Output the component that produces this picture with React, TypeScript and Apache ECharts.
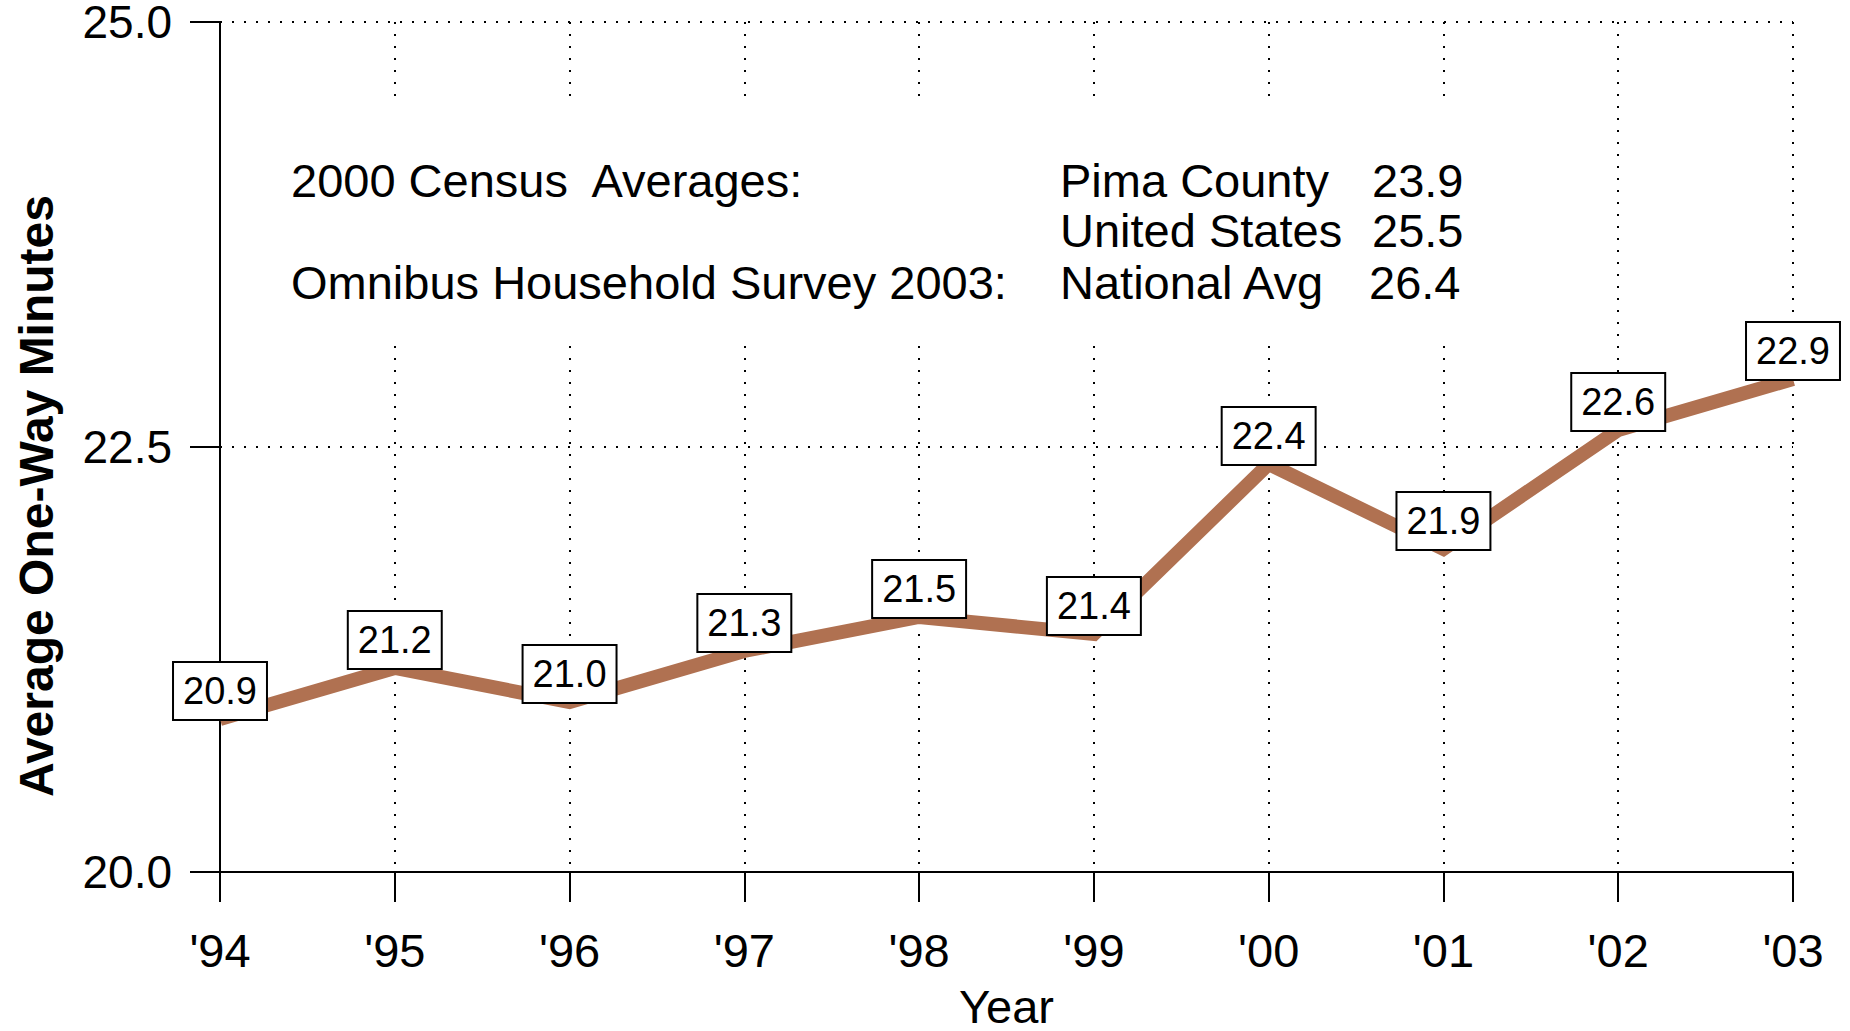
import React, { useEffect, useRef } from "react";
import * as echarts from "echarts";

const years = ["'94", "'95", "'96", "'97", "'98", "'99", "'00", "'01", "'02", "'03"];
const minutes = [20.9, 21.2, 21.0, 21.3, 21.5, 21.4, 22.4, 21.9, 22.6, 22.9];
const yMin = 20;
const yMax = 25;
const yStep = 2.5;

const yTitle = "Average One-Way Minutes";
const noteLeft = ["2000 Census  Averages:", "", "Omnibus Household Survey 2003:"];
const noteMid = ["Pima County", "United States", "National Avg"];
const noteVal = ["23.9", "25.5", "26.4"];

const FONT = "'Liberation Sans', Arial, Helvetica, sans-serif";
const LINE_COLOR = "#B07151";

export default function App() {
  const ref = useRef<HTMLDivElement>(null);
  useEffect(() => {
    if (!ref.current) return;
    const chart = echarts.init(ref.current, null, { renderer: "svg" });
    const rowsY = [180, 230, 282];
    const graphics: any[] = [
      {
        type: "rect",
        z: 5,
        shape: { x: 250, y: 106, width: 1250, height: 236 },
        style: { fill: "#ffffff" },
      },
      {
        type: "text",
        z: 6,
        x: 36,
        y: 496,
        rotation: Math.PI / 2,
        style: {
          text: yTitle,
          font: `bold 48px ${FONT}`,
          fill: "#000",
          textAlign: "center",
          textVerticalAlign: "middle",
        },
      },
    ];
    noteLeft.forEach((t, i) => {
      if (!t) return;
      graphics.push({
        type: "text",
        z: 6,
        x: 291,
        y: rowsY[i],
        style: { text: t, font: `47px ${FONT}`, fill: "#000", textAlign: "left", textVerticalAlign: "middle" },
      });
    });
    noteMid.forEach((t, i) => {
      graphics.push({
        type: "text",
        z: 6,
        x: 1060,
        y: rowsY[i],
        style: { text: t, font: `47px ${FONT}`, fill: "#000", textAlign: "left", textVerticalAlign: "middle" },
      });
    });
    noteVal.forEach((t, i) => {
      graphics.push({
        type: "text",
        z: 6,
        x: i === 2 ? 1369 : 1372,
        y: rowsY[i],
        style: { text: t, font: `47px ${FONT}`, fill: "#000", textAlign: "left", textVerticalAlign: "middle" },
      });
    });

    const dotted = { color: "#000", width: 2, type: [2, 10] as any };

    chart.setOption({
      animation: false,
      backgroundColor: "#ffffff",
      textStyle: { fontFamily: FONT },
      grid: {
        left: 220,
        right: 57,
        top: 22,
        bottom: 159,
        containLabel: false,
        outerBoundsMode: "none",
      },
      xAxis: {
        type: "category",
        data: years,
        boundaryGap: false,
        name: "Year",
        nameLocation: "middle",
        nameGap: 111,
        nameTextStyle: { fontSize: 47, color: "#000", fontFamily: FONT },
        axisLine: { show: true, lineStyle: { color: "#000", width: 2 } },
        axisTick: { show: true, length: 30, alignWithLabel: true, lineStyle: { color: "#000", width: 2 } },
        axisLabel: { fontSize: 47, color: "#000", margin: 55, fontFamily: FONT },
        splitLine: { show: true, lineStyle: dotted },
      },
      yAxis: {
        type: "value",
        min: yMin,
        max: yMax,
        interval: yStep,
        axisLine: { show: true, lineStyle: { color: "#000", width: 2 } },
        axisTick: { show: true, length: 30, lineStyle: { color: "#000", width: 2 } },
        axisLabel: {
          fontSize: 46,
          color: "#000",
          margin: 48,
          fontFamily: FONT,
          formatter: (v: number) => v.toFixed(1),
        },
        splitLine: { show: true, lineStyle: dotted },
      },
      graphic: graphics,
      series: [
        {
          type: "line",
          data: minutes,
          z: 10,
          symbol: "circle",
          symbolSize: 0,
          showSymbol: true,
          lineStyle: { color: LINE_COLOR, width: 14, join: "miter" },
          itemStyle: { color: LINE_COLOR },
          label: {
            show: true,
            position: "top",
            distance: 0,
            fontSize: 38,
            lineHeight: 40,
            color: "#000",
            fontFamily: FONT,
            backgroundColor: "#ffffff",
            borderColor: "#000",
            borderWidth: 2,
            padding: [8, 9],
            formatter: (p: any) => Number(p.value).toFixed(1),
          },
        },
      ],
    });
    return () => chart.dispose();
  }, []);
  return (
    <div
      ref={ref}
      style={{ position: "fixed", left: 0, top: 0, width: 1850, height: 1031, background: "#fff" }}
    />
  );
}
